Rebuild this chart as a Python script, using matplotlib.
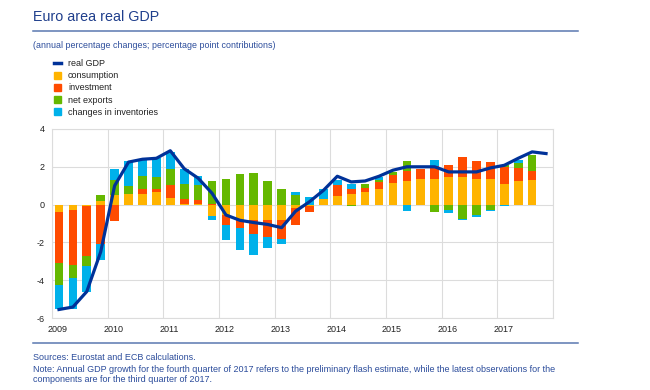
import numpy as np
import matplotlib
matplotlib.use('Agg')
import matplotlib.pyplot as plt
import matplotlib.transforms as mtrans
from matplotlib.lines import Line2D
from matplotlib.patches import Patch

plt.rcParams['font.family'] = ['Liberation Sans', 'DejaVu Sans']
plt.rcParams['axes.unicode_minus'] = False

# quarterly data, 2009Q1 - 2017Q4 (components end in 2017Q3)
years = list(range(2009, 2018))
real_gdp = [-5.55, -5.42, -4.60, -2.50, 1.00, 2.25, 2.40, 2.45, 2.85, 1.90, 1.40, 0.60,
            -0.55, -0.83, -0.95, -1.05, -1.22, -0.35, 0.15, 0.75, 1.50, 1.20, 1.25, 1.50,
            1.82, 2.00, 2.00, 2.00, 1.73, 1.73, 1.73, 1.94, 2.08, 2.45, 2.79, 2.70]
consumption = [-0.39, -0.27, -0.05, 0.20, 0.50, 0.55, 0.58, 0.65, 0.35, 0.05, 0.03, -0.60,
               -0.53, -0.83, -0.83, -0.83, -0.83, -0.20, -0.10, 0.32, 0.44, 0.55, 0.67, 0.85,
               1.15, 1.25, 1.33, 1.33, 1.47, 1.47, 1.33, 1.36, 1.11, 1.25, 1.29]
investment = [-2.70, -2.90, -2.65, -2.07, -0.88, 0.03, 0.22, 0.18, 0.71, 0.25, 0.23, 0.05,
              -0.57, -0.39, -0.74, -0.88, -0.97, -0.90, -0.28, 0.00, 0.62, 0.25, 0.21, 0.35,
              0.40, 0.53, 0.58, 0.70, 0.65, 1.06, 0.98, 0.87, 0.89, 0.69, 0.48]
net_exports = [-1.19, -0.70, -0.55, 0.31, 0.79, 0.42, 0.70, 0.64, 0.83, 0.81, 0.76, 1.19,
               1.36, 1.61, 1.68, 1.24, 0.85, 0.49, 0.00, 0.00, 0.00, -0.09, 0.21, 0.12,
               0.18, 0.53, 0.00, -0.39, -0.27, -0.74, -0.53, -0.30, 0.10, 0.26, 0.84]
inventories = [-1.24, -1.64, -1.35, -0.85, 0.57, 1.29, 0.89, 0.97, 0.90, 0.75, 0.48, -0.23,
               -0.79, -1.20, -1.12, -0.59, -0.30, 0.18, 0.41, 0.48, 0.23, 0.31, 0.00, 0.12,
               0.00, -0.34, 0.00, 0.32, -0.15, -0.05, -0.12, -0.05, -0.09, 0.14, 0.00]

labels = ['consumption', 'investment', 'net exports', 'changes in inventories']
colors = ['#ffb400', '#ff4b00', '#65b800', '#00b1ea']
gdp_color = '#003299'
text_blue = '#2b4c9b'

x_gdp = 2009 + (np.arange(len(real_gdp)) + 0.5) / 4
x_comp = x_gdp[:len(consumption)]

fig = plt.figure(figsize=(6.5, 3.9), dpi=100)
ax = fig.add_axes([52/650, 1 - 318/390, (553 - 52)/650, (318 - 129)/390])

# positive parts stack up, negative parts stack down
pos_bottom = np.zeros(len(x_comp))
neg_bottom = np.zeros(len(x_comp))
for vals, lab, col in zip([consumption, investment, net_exports, inventories], labels, colors):
    v = np.array(vals)
    bottom = np.where(v >= 0, pos_bottom, neg_bottom)
    ax.bar(x_comp, v, width=0.155, bottom=bottom, color=col, zorder=2)
    pos_bottom += np.clip(v, 0, None)
    neg_bottom += np.clip(v, None, 0)

ax.plot(x_gdp, real_gdp, color=gdp_color, lw=2.3, zorder=3)

ax.set_xlim(2009, 2018)
ax.set_ylim(-6, 4)
ax.set_yticks(range(-6, 5, 2))
ax.set_xticks(range(2009, 2019))
ax.set_xticklabels([str(y) for y in years] + [''])
ax.grid(True, color='#dcdcdc', lw=0.8, zorder=0)
for s in ax.spines.values():
    s.set_color('#dcdcdc')
    s.set_linewidth(0.8)
ax.tick_params(length=0, labelsize=6.5, colors='#222222', pad=5)
# year labels sit a little right of the gridline
off = mtrans.ScaledTranslation(6/100, 0, fig.dpi_scale_trans)
for t in ax.get_xticklabels():
    t.set_transform(t.get_transform() + off)

# header
fig.text(33/650, 1 - 17/390, 'Euro area real GDP', fontsize=10.3, color='#1f3e8c', va='center')
fig.add_artist(Line2D([33/650, 578/650], [1 - 31/390] * 2, color='#5a78b0', lw=1.1))
fig.text(33/650, 1 - 45/390, '(annual percentage changes; percentage point contributions)',
         fontsize=6.4, color=text_blue, va='center')

handles = [Line2D([0], [0], color=gdp_color, lw=2.5)] + [Patch(color=c) for c in colors]
fig.legend(handles, ['real GDP'] + labels, loc='upper left', bbox_to_anchor=(54/650, 1 - 59/390),
           frameon=False, fontsize=6.5, handlelength=0.8, handleheight=0.8, handletextpad=0.75,
           labelspacing=0.36, borderaxespad=0, borderpad=0, labelcolor='#222222')

# footer
fig.add_artist(Line2D([33/650, 578/650], [1 - 343/390] * 2, color='#5a78b0', lw=1.1))
fig.text(33/650, 1 - 357/390, 'Sources: Eurostat and ECB calculations.', fontsize=6.5,
         color=text_blue, va='center')
fig.text(33/650, 1 - 369/390, 'Note: Annual GDP growth for the fourth quarter of 2017 refers to the '
         'preliminary flash estimate, while the latest observations for the', fontsize=6.5,
         color=text_blue, va='center')
fig.text(33/650, 1 - 380/390, 'components are for the third quarter of 2017.', fontsize=6.5,
         color=text_blue, va='center')

plt.savefig('out.png', dpi=100)
